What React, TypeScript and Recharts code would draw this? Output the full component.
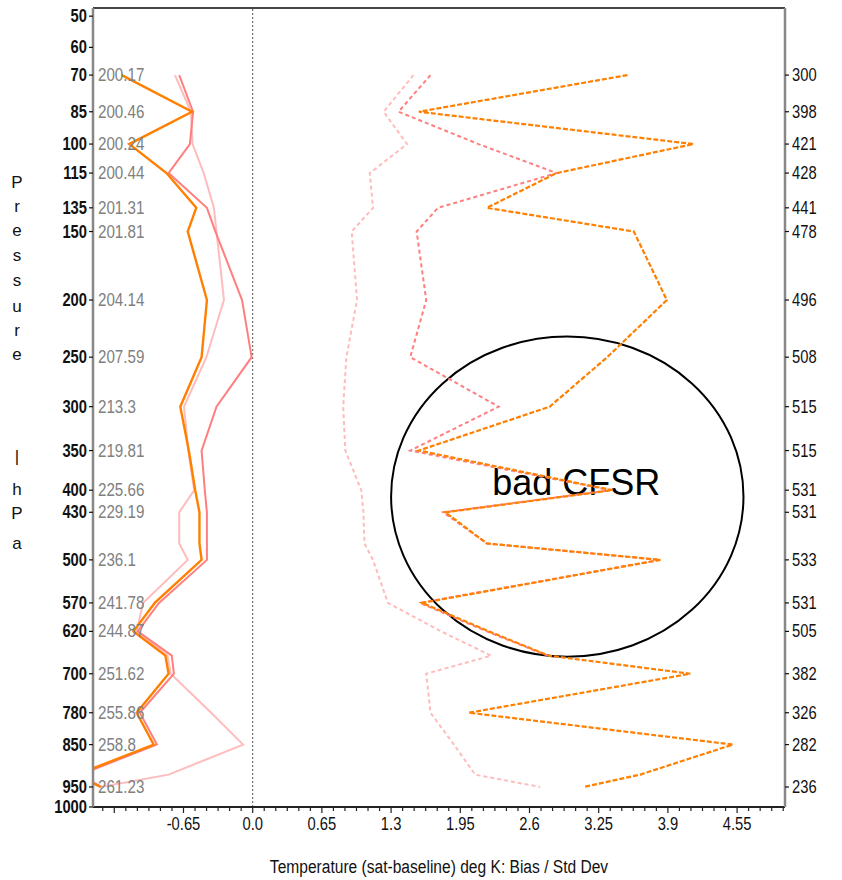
import React from 'react';
import { ComposedChart, Line, XAxis, YAxis, ReferenceLine, ReferenceArea } from 'recharts';

// Vertical coordinate: pressure drawn on a p^kappa (Exner-like) scale.
const KAPPA = 0.286;
const toU = (p: number) => Math.pow(p, KAPPA);
const fromU = (u: number) => Math.pow(u, 1 / KAPPA);

// Pressure levels (hPa) of the profile points
const levels = [70, 85, 100, 115, 135, 150, 200, 250, 300, 350, 400, 430, 475, 500, 570, 620, 665, 700, 780, 850, 920, 950];

// Bias (sat - baseline), deg K
const biasOrange = [-1.23, -0.57, -1.16, -0.81, -0.53, -0.61, -0.43, -0.48, -0.68, -0.6, -0.54, -0.5, -0.5, -0.48, -0.92, -1.12, -0.82, -0.79, -1.09, -0.93, -1.65, -1.43];
const biasSalmon = [-0.69, -0.56, -0.59, -0.79, -0.43, -0.35, -0.1, -0.01, -0.34, -0.48, -0.45, -0.43, -0.43, -0.43, -0.88, -1.08, -0.76, -0.74, -1.06, -0.9, -1.62, -1.42];
const biasPink = [-0.73, -0.58, -0.565, -0.46, -0.365, -0.34, -0.27, -0.435, -0.645, -0.605, -0.55, -0.69, -0.69, -0.61, -1.03, -1.09, -0.8, -0.77, -0.39, -0.09, -0.79, -1.43];

// Standard deviation, deg K
const sdOrange = [3.52, 1.56, 4.14, 2.855, 2.2, 3.58, 3.89, 3.33, 2.79, 1.56, 3.38, 1.81, 2.2, 3.83, 1.59, 2.22, 2.78, 4.11, 2.03, 4.51, 3.64, 3.11];
const sdSalmon: (number | null)[] = [1.67, 1.37, 2.12, 2.855, 1.74, 1.54, 1.63, 1.48, 2.31, 1.48, 3.36, 1.79, 2.2, 3.82, 1.57, 2.2, 2.77, null, null, null, null, null];
const sdPink = [1.51, 1.23, 1.45, 1.1, 1.13, 0.93, 0.98, 0.88, 0.85, 0.87, 1.02, 1.04, 1.05, 1.13, 1.27, 1.77, 2.24, 1.63, 1.67, 1.89, 2.09, 2.7];

// Labelled levels, their mean temperature and observation count
const labelLevels = [70, 85, 100, 115, 135, 150, 200, 250, 300, 350, 400, 430, 500, 570, 620, 700, 780, 850, 950];
const meanTemps = ['200.17', '200.46', '200.24', '200.44', '201.31', '201.81', '204.14', '207.59', '213.3', '219.81', '225.66', '229.19', '236.1', '241.78', '244.87', '251.62', '255.86', '258.8', '261.23'];
const obsCounts = [300, 398, 421, 428, 441, 478, 496, 508, 515, 515, 531, 531, 533, 531, 505, 382, 326, 282, 236];

// Left axis pressure ticks
const pressureTicks = [50, 60, 70, 85, 100, 115, 135, 150, 200, 250, 300, 350, 400, 430, 500, 570, 620, 700, 780, 850, 950, 1000];

// Bottom axis
const xMajorTicks = [-1.3, -0.65, 0, 0.65, 1.3, 1.95, 2.6, 3.25, 3.9, 4.55];
const xMajorLabels = ['', '-0.65', '0.0', '0.65', '1.3', '1.95', '2.6', '3.25', '3.9', '4.55'];
const X_MINOR_STEP = 0.65 / 6;
const X_DOMAIN: [number, number] = [-1.5, 5.0];
const P_DOMAIN: [number, number] = [47.6, 1000];

const data = levels.map((p, i) => ({
  u: toU(p),
  biasOrange: biasOrange[i],
  biasSalmon: biasSalmon[i],
  biasPink: biasPink[i],
  sdOrange: sdOrange[i],
  sdSalmon: sdSalmon[i],
  sdPink: sdPink[i],
}));

const xTicks: number[] = [];
for (let k = Math.ceil(X_DOMAIN[0] / X_MINOR_STEP); k * X_MINOR_STEP <= X_DOMAIN[1] + 1e-9; k++) {
  xTicks.push(+(k * X_MINOR_STEP).toFixed(4));
}

const SANS = '"Liberation Sans", Arial, sans-serif';

const ORANGE = '#ff8000';
const SALMON = '#ff7f7f';
const PINK = '#ffbcbc';

// Arial Narrow look-alike: Liberation Sans squeezed horizontally
const NarrowText = (props: {
  x: number;
  y: number;
  anchor?: 'start' | 'middle' | 'end';
  size?: number;
  bold?: boolean;
  fill?: string;
  children: React.ReactNode;
}) => {
  const { x, y, anchor = 'start', size = 18, bold = false, fill = '#111', children } = props;
  return (
    <text
      transform={`translate(${x},${y}) scale(0.82,1)`}
      x={0}
      y={0}
      textAnchor={anchor}
      fontFamily={SANS}
      fontSize={size}
      fontWeight={bold ? 'bold' : 'normal'}
      fill={fill}
    >
      {children}
    </text>
  );
};

const LeftTick = (props: any) => {
  const { x, y, payload } = props;
  const p = Math.round(fromU(payload.value));
  const idx = labelLevels.indexOf(p);
  return (
    <g>
      <NarrowText x={x} y={y + 6} anchor="end" bold>
        {p}
      </NarrowText>
      {idx >= 0 && (
        <NarrowText x={x + 11} y={y + 6} size={18.5} fill="#808080">
          {meanTemps[idx]}
        </NarrowText>
      )}
    </g>
  );
};

const RightTick = (props: any) => {
  const { x, y, payload } = props;
  const p = Math.round(fromU(payload.value));
  const idx = labelLevels.indexOf(p);
  if (idx < 0) return <g />;
  return (
    <NarrowText x={x} y={y + 6}>
      {obsCounts[idx]}
    </NarrowText>
  );
};

const BottomTick = (props: any) => {
  const { x, y, payload } = props;
  const v = payload.value;
  const mi = xMajorTicks.findIndex((m) => Math.abs(m - v) < 1e-3);
  const major = mi >= 0;
  return (
    <g>
      <line x1={x} x2={x} y1={y} y2={y + (major ? 6 : 4)} stroke="#222" strokeWidth={1.2} />
      {major && xMajorLabels[mi] && (
        <NarrowText x={x} y={y + 23} anchor="middle">
          {xMajorLabels[mi]}
        </NarrowText>
      )}
    </g>
  );
};

// Stacked, upright letters of the pressure axis title
const yTitleLetters: [string, number][] = [
  ['P', 180], ['r', 204], ['e', 228], ['s', 253], ['s', 278], ['u', 304], ['r', 328], ['e', 352],
  ['|', 454], ['h', 487], ['P', 511], ['a', 541],
];

const YTitle = (props: any) => {
  const { viewBox } = props;
  const cx = viewBox.x - 16;
  return (
    <g>
      {yTitleLetters.map(([ch, dy], i) => (
        <text key={i} x={cx} y={viewBox.y + dy} textAnchor="middle" fontFamily={SANS} fontSize={17} fill="#111">
          {ch}
        </text>
      ))}
    </g>
  );
};

const XTitle = (props: any) => {
  const { viewBox } = props;
  return (
    <NarrowText x={viewBox.x + viewBox.width / 2} y={viewBox.y + 66} anchor="middle" size={19}>
      Temperature (sat-baseline) deg K: Bias / Std Dev
    </NarrowText>
  );
};

const CfsrNote = (props: any) => {
  const { x, y, width, height } = props;
  const cx = x + width / 2;
  const cy = y + height / 2;
  return (
    <g>
      <ellipse cx={cx} cy={cy} rx={width / 2} ry={height / 2} fill="none" stroke="#000" strokeWidth={2} />
      <text x={cx + 9} y={cy - 2} textAnchor="middle" fontFamily={SANS} fontSize={36} fill="#000">
        bad CFSR
      </text>
    </g>
  );
};

export default function App() {
  return (
    <div style={{ position: 'absolute', left: 0, top: 0, width: 842, height: 880, background: '#fff' }}>
      <ComposedChart
        width={842}
        height={880}
        data={data}
        layout="vertical"
        margin={{ top: 8, right: 7, bottom: 0, left: 33 }}
      >
        <XAxis
          type="number"
          domain={X_DOMAIN}
          allowDataOverflow
          ticks={xTicks}
          interval={0}
          tick={<BottomTick />}
          tickLine={false}
          tickSize={0}
          tickMargin={0}
          height={73}
          axisLine={{ stroke: '#222', strokeWidth: 2 }}
          label={<XTitle />}
        />
        <YAxis
          yAxisId="left"
          type="number"
          dataKey="u"
          domain={[toU(P_DOMAIN[0]), toU(P_DOMAIN[1])]}
          allowDataOverflow
          ticks={pressureTicks.map(toU)}
          interval={0}
          width={60}
          tickSize={4}
          tickMargin={2}
          tickLine={{ stroke: '#111', strokeWidth: 1.2 }}
          tick={<LeftTick />}
          axisLine={{ stroke: '#888', strokeWidth: 2.5 }}
          label={<YTitle />}
        />
        <YAxis
          yAxisId="right"
          orientation="right"
          type="number"
          dataKey="u"
          domain={[toU(P_DOMAIN[0]), toU(P_DOMAIN[1])]}
          allowDataOverflow
          ticks={labelLevels.map(toU)}
          interval={0}
          width={50}
          tickSize={4}
          tickMargin={3}
          tickLine={{ stroke: '#111', strokeWidth: 1.2 }}
          tick={<RightTick />}
          axisLine={{ stroke: '#888', strokeWidth: 2.5 }}
        />

        <ReferenceLine yAxisId="left" y={toU(P_DOMAIN[0])} stroke="#444" strokeWidth={2} />
        <ReferenceLine yAxisId="left" x={0} stroke="#555" strokeWidth={1} strokeDasharray="2 2" />

        <ReferenceArea
          yAxisId="left"
          x1={1.3}
          x2={4.61}
          y1={toU(231)}
          y2={toU(667)}
          shape={<CfsrNote />}
        />

        <Line yAxisId="left" dataKey="sdPink" stroke={PINK} strokeWidth={2} strokeDasharray="4 3" dot={false} isAnimationActive={false} />
        <Line yAxisId="left" dataKey="sdSalmon" stroke={SALMON} strokeWidth={2} strokeDasharray="4 3" dot={false} isAnimationActive={false} />
        <Line yAxisId="left" dataKey="sdOrange" stroke={ORANGE} strokeWidth={2.2} strokeDasharray="5 2" dot={false} isAnimationActive={false} />

        <Line yAxisId="left" dataKey="biasPink" stroke={PINK} strokeWidth={2} dot={false} isAnimationActive={false} />
        <Line yAxisId="left" dataKey="biasSalmon" stroke={SALMON} strokeWidth={2} dot={false} isAnimationActive={false} />
        <Line yAxisId="left" dataKey="biasOrange" stroke={ORANGE} strokeWidth={2.4} dot={false} isAnimationActive={false} />
      </ComposedChart>
    </div>
  );
}
